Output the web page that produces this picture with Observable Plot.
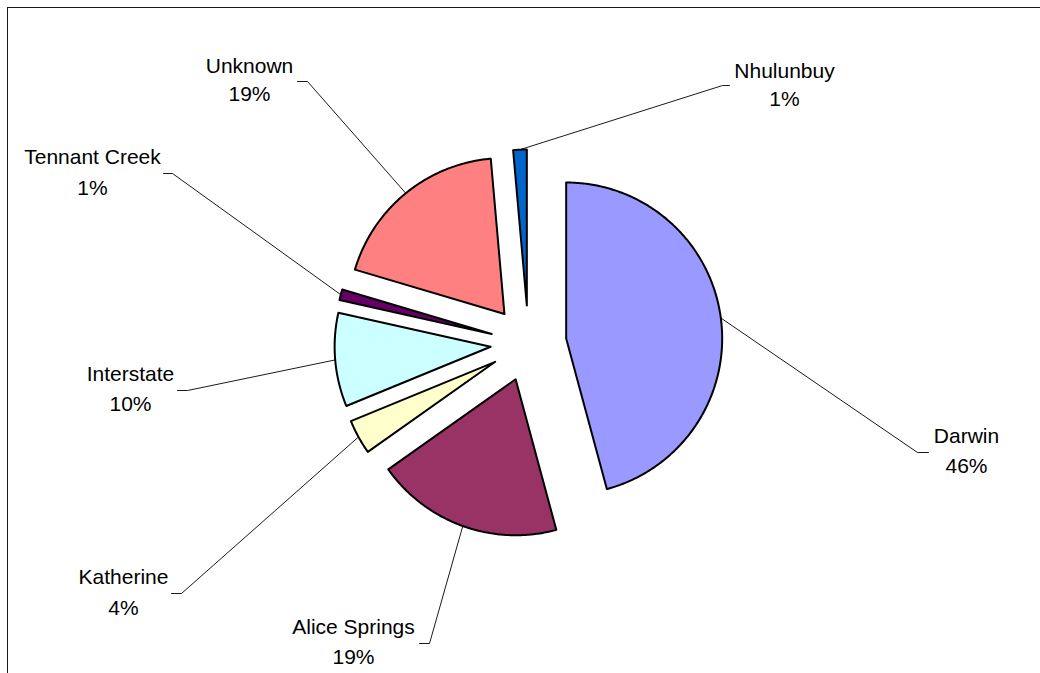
<!DOCTYPE html>
<html><head><meta charset="utf-8">
<script src="https://cdn.jsdelivr.net/npm/d3@7"></script>
<script src="https://cdn.jsdelivr.net/npm/@observablehq/plot@0.6"></script>
<style>
html,body{margin:0;padding:0;background:#fff;overflow:hidden;width:1040px;height:673px;}
#chart{position:absolute;left:0;top:0;}
#frame{position:absolute;left:7px;top:7px;width:1060px;height:740px;border-left:1.5px solid #1a1a1a;border-top:1.5px solid #1a1a1a;box-sizing:border-box;pointer-events:none;}
</style></head><body>
<div id="chart"></div><div id="frame"></div>
<script>
// ---- data ----
const categories = ["Darwin", "Alice Springs", "Katherine", "Interstate", "Tennant Creek", "Unknown", "Nhulunbuy"];
const values = [45.8, 19.4, 3.6, 9.7, 1.1, 19.0, 1.4];
const colors = ["#9999FF", "#993366", "#FFFFCC", "#CCFFFF", "#660066", "#FF8080", "#0066CC"];

// ---- layout (pixels) ----
const CX = 528, CY = 343, R = 156, EXPLODE = 38;
const labelLayout = [
  {elbowX: 917, elbowY: 452, endX: 928, textX: 966, nameY: 442, pctY: 472},
  {elbowX: 429, elbowY: 643, endX: 419, textX: 353, nameY: 633, pctY: 663},
  {elbowX: 181, elbowY: 593, endX: 171, textX: 123, nameY: 583, pctY: 614},
  {elbowX: 187, elbowY: 390, endX: 177, textX: 130, nameY: 380, pctY: 410},
  {elbowX: 172, elbowY: 173, endX: 163, textX: 92,  nameY: 163, pctY: 194},
  {elbowX: 307, elbowY: 81,  endX: 297, textX: 249, nameY: 72,  pctY: 100},
  {elbowX: 722, elbowY: 85,  endX: 729, textX: 784, nameY: 77,  pctY: 105}
];

const rows = categories.map((c, i) => ({category: c, value: values[i], color: colors[i]}));
const arcs = d3.pie().sort(null).value(d => d.value).startAngle(0).endAngle(2 * Math.PI)(rows);

const slicePts = [], leaderPts = [], labels = [];
arcs.forEach((a, i) => {
  const cat = a.data.category;
  const mid = (a.startAngle + a.endAngle) / 2;
  const vx = CX + EXPLODE * Math.sin(mid), vy = CY - EXPLODE * Math.cos(mid);
  slicePts.push({x: vx, y: vy, category: cat, color: a.data.color});
  const n = Math.max(2, Math.ceil((a.endAngle - a.startAngle) / 0.01));
  for (let k = 0; k <= n; k++) {
    const t = a.startAngle + (a.endAngle - a.startAngle) * k / n;
    slicePts.push({x: vx + R * Math.sin(t), y: vy - R * Math.cos(t), category: cat, color: a.data.color});
  }
  const L = labelLayout[i];
  leaderPts.push({x: vx + R * Math.sin(mid), y: vy - R * Math.cos(mid), category: cat});
  leaderPts.push({x: L.elbowX, y: L.elbowY, category: cat});
  leaderPts.push({x: L.endX, y: L.elbowY, category: cat});
  labels.push({x: L.textX, nameY: L.nameY, pctY: L.pctY, name: cat, pct: Math.round(a.data.value) + "%"});
});

const font = "'Liberation Sans', Arial, Helvetica, sans-serif";
const chart = Plot.plot({
  width: 1040, height: 673,
  margin: 0,
  x: {domain: [0, 1040], range: [0, 1040], axis: null},
  y: {domain: [0, 673], range: [0, 673], axis: null},
  color: {type: "identity"},
  style: {background: "transparent", fontFamily: font},
  marks: [
    Plot.line(leaderPts, {x: "x", y: "y", z: "category", stroke: "#000", strokeWidth: 0.9}),
    Plot.line(slicePts, {x: "x", y: "y", z: "category", fill: "color", stroke: "#000", strokeWidth: 2, curve: "linear-closed", strokeLinejoin: "round"}),
    Plot.text(labels, {x: "x", y: "nameY", text: "name", lineAnchor: "bottom", fontSize: 21, fill: "#000", fontFamily: font}),
    Plot.text(labels, {x: "x", y: "pctY", text: "pct", lineAnchor: "bottom", fontSize: 21, fill: "#000", fontFamily: font})
  ]
});
document.getElementById("chart").appendChild(chart);
</script>
</body></html>
